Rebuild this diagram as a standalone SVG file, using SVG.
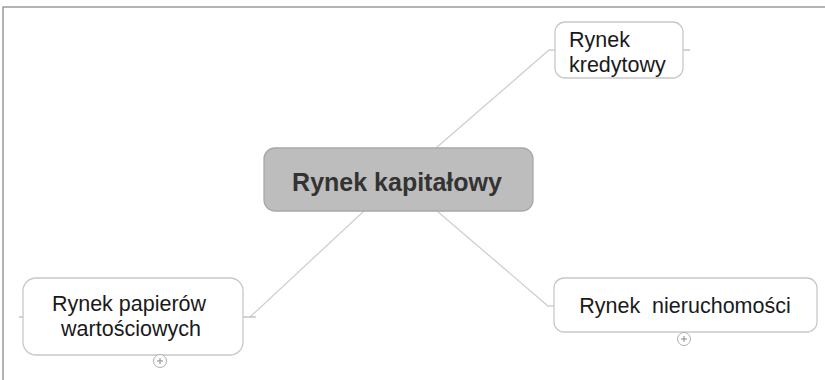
<svg xmlns="http://www.w3.org/2000/svg" width="825" height="380" viewBox="0 0 825 380">
<style>
.frame{fill:none;stroke:#9a9a9a;stroke-width:1.5}
.conn{fill:none;stroke:#cfcfcf;stroke-width:1.3}
.stub{fill:none;stroke:#b5b5b5;stroke-width:1.2}
.node{fill:#ffffff;stroke:#c8c8c8;stroke-width:1.3}
.center{fill:#bdbdbd;stroke:#a8a8a8;stroke-width:1.3}
.t{font-family:"Liberation Sans",Arial,sans-serif;font-size:21.5px;fill:#1a1a1a}
.tc{font-family:"Liberation Sans",Arial,sans-serif;font-size:25px;font-weight:bold;fill:#333333}
.plus{fill:#ffffff;stroke:#b0b0b0;stroke-width:1}
.plusm{stroke:#888888;stroke-width:1}
</style>
<rect width="825" height="380" fill="#ffffff"/>
<path class="frame" d="M3,380 V7 H825"/>
<g id="connectors">
  <path class="conn" d="M436,148 L549,50 H555"/>
  <path class="conn" d="M364,211 L250,317"/>
  <path class="stub" d="M243,317 H256"/>
  <path class="conn" d="M437,211 L548,306 H554"/>
  <path class="stub" d="M683,50 H690"/>
  <path class="stub" d="M19,317 H23"/>
</g>
<g id="central">
  <rect class="center" x="264" y="148" width="269" height="63" rx="11"/>
  <text class="tc" x="397" y="191" text-anchor="middle">Rynek kapitałowy</text>
</g>
<g id="kredytowy">
  <rect class="node" x="555" y="22" width="128" height="56" rx="10"/>
  <text class="t" x="569" y="47">Rynek</text>
  <text class="t" x="569" y="72">kredytowy</text>
</g>
<g id="papiery">
  <rect class="node" x="23" y="278" width="220" height="77" rx="13"/>
  <text class="t" x="129" y="311" text-anchor="middle">Rynek papierów</text>
  <text class="t" x="131" y="336" text-anchor="middle">wartościowych</text>
  <circle class="plus" cx="160" cy="361" r="6.5"/>
  <path class="plusm" d="M157,361 H163 M160,358 V364"/>
</g>
<g id="nieruchomosci">
  <rect class="node" x="554" y="278" width="263" height="54" rx="10"/>
  <text class="t" x="685" y="313" text-anchor="middle" xml:space="preserve">Rynek  nieruchomości</text>
  <circle class="plus" cx="684" cy="339" r="6.5"/>
  <path class="plusm" d="M681,339 H687 M684,336 V342"/>
</g>
</svg>
